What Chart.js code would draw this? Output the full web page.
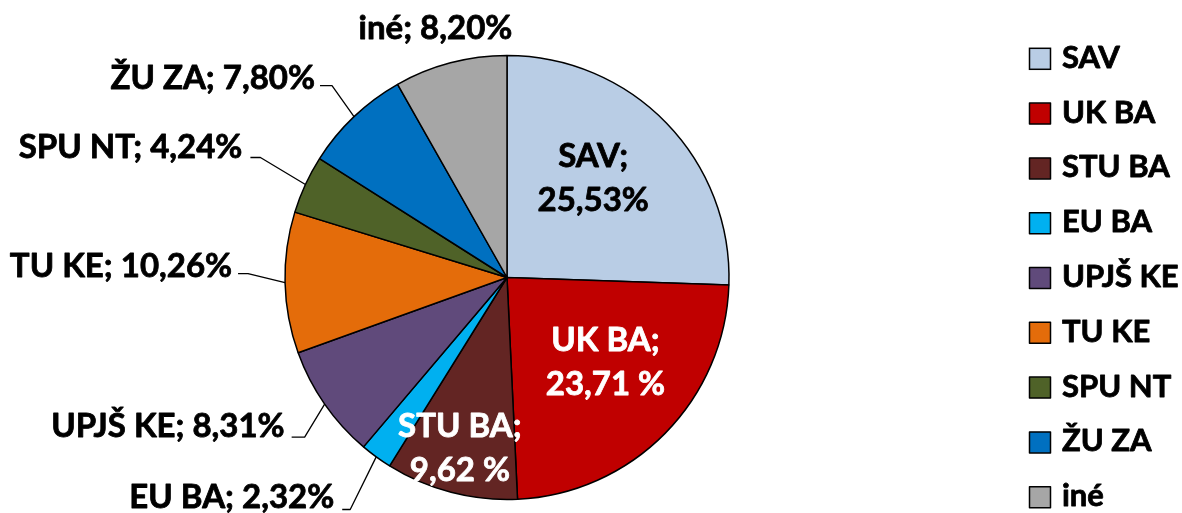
<!DOCTYPE html>
<html><head><meta charset="utf-8">
<script src="https://cdn.jsdelivr.net/npm/chart.js@4.4.0/dist/chart.umd.min.js"></script>
<style>html,body{margin:0;padding:0;background:#fff;} #wrap{width:1182px;height:513px;position:relative;}</style>
</head><body><div id="wrap"><canvas id="c"></canvas></div>
<script>
const categories = ['SAV','UK BA','STU BA','EU BA','UPJŠ KE','TU KE','SPU NT','ŽU ZA','iné'];
const shares = [25.53, 23.71, 9.62, 2.32, 8.31, 10.26, 4.24, 7.80, 8.20];
const valueLabels = ['25,53%','23,71 %','9,62 %','2,32%','8,31%','10,26%','4,24%','7,80%','8,20%'];
const colors = ['#B9CDE5','#C00000','#632523','#00B0F0','#604A7B','#E46C0A','#4F6228','#0070C0','#A6A6A6'];

const FONT = 'bold 33px Lato, sans-serif';
const LEGEND_FONT = 'bold 31px Lato, sans-serif';
// label placement styles (offsets relative to each arc's geometry)
const labelPlacement = [
  {mode:'inside', r:0.59,  dx:-8, dy:-8, color:'#000'},
  {mode:'inside', r:0.585, dx:6,  dy:-7, color:'#fff'},
  {mode:'inside', r:0.788, dx:-3, dy:1,  color:'#fff'},
  {mode:'leader', ex:-26, ey:52.6, h:8,  gap:8, by:-1},
  {mode:'leader', ex:-20, ey:33,   h:13, gap:7, by:0},
  {mode:'leader', ex:-37, ey:-9,   h:10, gap:6, by:3},
  {mode:'leader', ex:-45, ey:-27,  h:10, gap:8, by:0},
  {mode:'leader', ex:-22, ey:-31,  h:12, gap:5, by:3},
  {mode:'free', dx:-15, dy:-24}
];

function boldText(ctx, txt, x, y, color) {
  ctx.fillStyle = color;
  ctx.strokeStyle = color;
  ctx.lineWidth = 0.8;
  ctx.lineJoin = 'round';
  ctx.fillText(txt, x, y);
  ctx.strokeText(txt, x, y);
}

const labelPlugin = {
  id: 'pieLabels',
  afterDatasetsDraw(chart) {
    const ctx = chart.ctx;
    const meta = chart.getDatasetMeta(0);
    ctx.save();
    ctx.font = FONT;
    ctx.textBaseline = 'alphabetic';
    meta.data.forEach((arc, i) => {
      const p = arc.getProps(['x','y','startAngle','endAngle','outerRadius'], true);
      const mid = (p.startAngle + p.endAngle) / 2;
      const cfg = labelPlacement[i];
      const cat = chart.data.labels[i];
      const val = valueLabels[i];
      if (cfg.mode === 'inside') {
        const cx = p.x + Math.cos(mid) * p.outerRadius * cfg.r + cfg.dx;
        const cy = p.y + Math.sin(mid) * p.outerRadius * cfg.r + cfg.dy;
        ctx.textAlign = 'center';
        boldText(ctx, cat + ';', cx, cy - 22 + 11, cfg.color);
        boldText(ctx, val, cx, cy + 22 + 11, cfg.color);
      } else {
        const ex = p.x + Math.cos(mid) * p.outerRadius;
        const ey = p.y + Math.sin(mid) * p.outerRadius;
        const txt = cat + '; ' + val;
        if (cfg.mode === 'leader') {
          const bx = ex + cfg.ex, byy = ey + cfg.ey;
          const hx = bx - cfg.h;
          ctx.strokeStyle = '#000';
          ctx.lineWidth = 1.3;
          ctx.beginPath();
          ctx.moveTo(ex, ey);
          ctx.lineTo(bx, byy);
          ctx.lineTo(hx, byy);
          ctx.stroke();
          ctx.textAlign = 'right';
          boldText(ctx, txt, hx - cfg.gap, byy + cfg.by, '#000');
        } else {
          ctx.textAlign = 'center';
          boldText(ctx, txt, ex + cfg.dx, ey + cfg.dy, '#000');
        }
      }
    });
    ctx.restore();
  }
};

const legendPlugin = {
  id: 'sideLegend',
  afterDraw(chart) {
    const ctx = chart.ctx;
    const ds = chart.data.datasets[0];
    ctx.save();
    ctx.font = LEGEND_FONT;
    ctx.textAlign = 'left';
    ctx.textBaseline = 'alphabetic';
    chart.data.labels.forEach((lab, i) => {
      const top = 48.3 + i * 54.8;
      ctx.fillStyle = ds.backgroundColor[i];
      ctx.fillRect(1029.5, top, 21, 21);
      ctx.strokeStyle = '#000';
      ctx.lineWidth = 1.5;
      ctx.strokeRect(1029.5, top, 21, 21);
      boldText(ctx, lab, 1062, top + 19.5, '#000');
    });
    ctx.restore();
  }
};

new Chart(document.getElementById('c'), {
  type: 'pie',
  data: {
    labels: categories,
    datasets: [{
      data: shares,
      backgroundColor: colors,
      borderColor: '#000',
      borderWidth: 1.5,
      radius: 222
    }]
  },
  options: {
    responsive: true,
    maintainAspectRatio: false,
    animation: false,
    layout: { padding: { left: 0, right: 168, top: 55, bottom: 13 } },
    plugins: { legend: { display: false }, tooltip: { enabled: false } }
  },
  plugins: [labelPlugin, legendPlugin]
});
</script>
</body></html>
